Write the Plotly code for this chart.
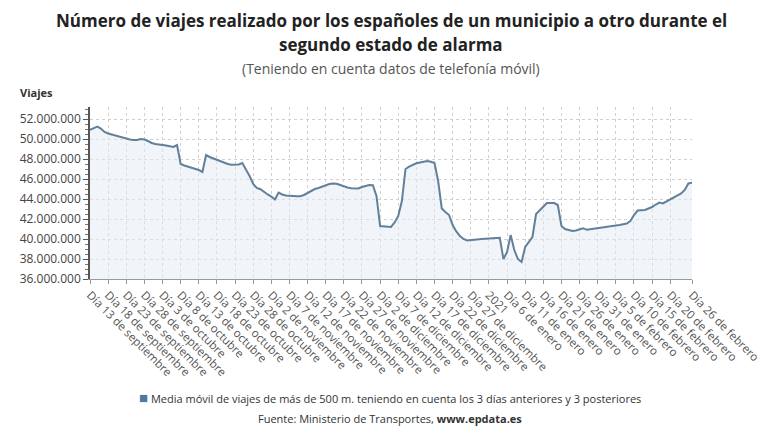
import pandas as pd
import plotly.graph_objects as go

start_date = "2020-09-13"
# Daily moving-average trips (millions), 13 Sep 2020 - 26 Feb 2021
viajes_millones = [
    50.92, 51.10, 51.25, 51.05, 50.70, 50.55, 50.45, 50.30, 50.20, 50.10,
    50.00, 49.95, 49.90, 49.90, 50.00, 49.95, 49.80, 49.60, 49.50, 49.42,
    49.40, 49.35, 49.25, 49.20, 49.40, 47.50, 47.35, 47.25, 47.15, 47.05,
    46.90, 46.70, 48.40, 48.20, 48.05, 47.90, 47.80, 47.65, 47.50, 47.42,
    47.40, 47.45, 47.60, 47.00, 46.30, 45.50, 45.10, 44.98, 44.70, 44.45,
    44.25, 43.95, 44.65, 44.45, 44.35, 44.30, 44.30, 44.28, 44.28, 44.40,
    44.60, 44.80, 45.00, 45.10, 45.25, 45.42, 45.50, 45.55, 45.52, 45.40,
    45.25, 45.15, 45.08, 45.05, 45.05, 45.20, 45.30, 45.40, 45.38, 44.30,
    41.30, 41.25, 41.22, 41.20, 41.65, 42.30, 43.80, 47.00, 47.23, 47.40,
    47.57, 47.65, 47.75, 47.80, 47.72, 47.60, 45.80, 43.05, 42.70, 42.40,
    41.40, 40.75, 40.30, 40.00, 39.85, 39.90, 39.95, 39.98, 40.00, 40.02,
    40.05, 40.08, 40.10, 40.12, 38.00, 38.70, 40.40, 38.90, 38.00, 37.70,
    39.20, 39.70, 40.20, 42.50, 42.90, 43.20, 43.60, 43.60, 43.60, 43.40,
    41.30, 41.00, 40.88, 40.80, 40.85, 41.00, 41.08, 40.92, 40.98, 41.05,
    41.12, 41.18, 41.20, 41.25, 41.30, 41.35, 41.40, 41.45, 41.55, 41.80,
    42.40, 42.85, 42.88, 42.90, 43.05, 43.20, 43.45, 43.65, 43.55, 43.75,
    43.95, 44.10, 44.30, 44.55, 44.90, 45.55, 45.62,
]

tick_dates = [
    "2020-09-13", "2020-09-18", "2020-09-23", "2020-09-28", "2020-10-03",
    "2020-10-08", "2020-10-13", "2020-10-18", "2020-10-23", "2020-10-28",
    "2020-11-02", "2020-11-07", "2020-11-12", "2020-11-17", "2020-11-22",
    "2020-11-27", "2020-12-02", "2020-12-07", "2020-12-12", "2020-12-17",
    "2020-12-22", "2020-12-27", "2021-01-01", "2021-01-06", "2021-01-11",
    "2021-01-16", "2021-01-21", "2021-01-26", "2021-01-31", "2021-02-05",
    "2021-02-10", "2021-02-15", "2021-02-20", "2021-02-26",
]
tick_labels = [
    "Día 13 de septiembre", "Día 18 de septiembre", "Día 23 de septiembre",
    "Día 28 de septiembre", "Día 3 de octubre", "Día 8 de octubre",
    "Día 13 de octubre", "Día 18 de octubre", "Día 23 de octubre",
    "Día 28 de octubre", "Día 2 de noviembre", "Día 7 de noviembre",
    "Día 12 de noviembre", "Día 17 de noviembre", "Día 22 de noviembre",
    "Día 27 de noviembre", "Día 2 de diciembre", "Día 7 de diciembre",
    "Día 12 de diciembre", "Día 17 de diciembre", "Día 22 de diciembre",
    "Día 27 de diciembre", "2021", "Día 6 de enero", "Día 11 de enero",
    "Día 16 de enero", "Día 21 de enero", "Día 26 de enero", "Día 31 de enero",
    "Día 5 de febrero", "Día 10 de febrero", "Día 15 de febrero",
    "Día 20 de febrero", "Día 26 de febrero",
]
y_ticks = [36e6, 38e6, 40e6, 42e6, 44e6, 46e6, 48e6, 50e6, 52e6]

series_name = "Media móvil de viajes de más de 500 m. teniendo en cuenta los 3 días anteriores y 3 posteriores"

dates = pd.date_range(start_date, periods=len(viajes_millones), freq="D")
values = [v * 1e6 for v in viajes_millones]

FONT = "Open Sans, Noto Sans, sans-serif"
LINE = "#62809a"
PLOT_H = 172  # plot area height in px (for paper-coordinate placement)
PLOT_BOTTOM = 279


def py(pixel_y):
    return (PLOT_BOTTOM - pixel_y) / PLOT_H


fig = go.Figure()
fig.add_trace(go.Scatter(
    x=dates, y=values, mode="lines", name=series_name,
    line=dict(color=LINE, width=2),
    fill="tozeroy", fillcolor="rgba(228,234,241,0.5)",
    showlegend=False, hoverinfo="skip",
))

fig.update_layout(
    width=780, height=440,
    margin=dict(l=90, r=88, t=107, b=161),
    paper_bgcolor="white", plot_bgcolor="white",
    separators=",.",
    font=dict(family=FONT, color="#444"),
    showlegend=False,
)

fig.update_xaxes(
    type="date",
    range=[dates[0], dates[-1]],
    tickmode="array", tickvals=pd.to_datetime(tick_dates), ticktext=tick_labels,
    tickangle=45, tickfont=dict(size=11.5, color="#555"),
    showgrid=True, gridcolor="#d0d0d0", griddash="dot", gridwidth=1,
    showline=True, linecolor="#999", linewidth=1,
    ticks="outside", ticklen=4, tickcolor="#999",
    zeroline=False,
)
fig.update_yaxes(
    range=[36e6, 53.2e6],
    tickmode="array", tickvals=y_ticks, tickformat=",.0f",
    tickfont=dict(size=12, color="#444"),
    showgrid=True, gridcolor="#d0d0d0", griddash="dot", gridwidth=1,
    showline=True, linecolor="#555", linewidth=1.5,
    ticks="outside", ticklen=5, tickcolor="#555",
    minor=dict(ticks="outside", ticklen=3, tickcolor="#777", dtick=500000, showgrid=False),
    zeroline=False,
)

fig.add_annotation(
    text="<b>Número de viajes realizado por los españoles de un municipio a otro durante el</b>",
    xref="paper", yref="paper", x=0.5, y=py(20), xanchor="center", yanchor="middle",
    showarrow=False, font=dict(size=17, color="#222", family=FONT),
)
fig.add_annotation(
    text="<b>segundo estado de alarma</b>",
    xref="paper", yref="paper", x=0.5, y=py(44), xanchor="center", yanchor="middle",
    showarrow=False, font=dict(size=17, color="#222", family=FONT),
)
fig.add_annotation(
    text="(Teniendo en cuenta datos de telefonía móvil)",
    xref="paper", yref="paper", x=0.5, y=py(68),
    xanchor="center", yanchor="middle", showarrow=False,
    font=dict(size=14, color="#555", family=FONT),
)
fig.add_annotation(
    text="<b>Viajes</b>",
    xref="paper", yref="paper", x=-72 / 602, y=py(92),
    xanchor="left", yanchor="middle", showarrow=False,
    font=dict(size=11, color="#333", family=FONT),
)
fig.add_annotation(
    text="<span style='color:#4f7aa0;font-size:15px'>■</span> " + series_name,
    xref="paper", yref="paper", x=(390 - 90) / 602, y=py(397),
    xanchor="center", yanchor="middle", showarrow=False,
    font=dict(size=11, color="#333", family=FONT),
)
fig.add_annotation(
    text="Fuente: Ministerio de Transportes, <b>www.epdata.es</b>",
    xref="paper", yref="paper", x=(390 - 90) / 602, y=py(418),
    xanchor="center", yanchor="middle", showarrow=False,
    font=dict(size=11, color="#333", family=FONT),
)

fig.write_html("out.html")
